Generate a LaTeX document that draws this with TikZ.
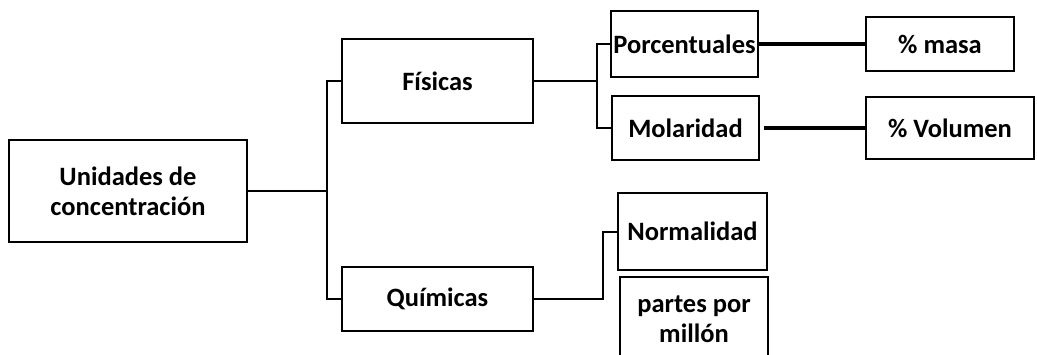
\documentclass[tikz,border=0pt]{standalone}
\usepackage{fontspec}
\setmainfont{Carlito}
\usepackage{tikz}
\usetikzlibrary{positioning}

\begin{document}
\begin{tikzpicture}[
  x=1pt,y=-1pt,line width=2pt,
  caja/.style={draw=black,line width=2pt,fill=white,inner sep=0pt,
    align=center,font=\fontsize{26.5}{30}\selectfont\bfseries},
  grueso/.style={line width=4pt}]

\useasboundingbox (0,0) rectangle (1037,354);
\clip (0,0) rectangle (1037,354);

\node[caja,minimum width=238,minimum height=102] (unidades) at (128,191)
  {Unidades de\\concentración};

\node[caja,minimum width=191,minimum height=84] (fisicas) at (437.5,81)
  {Físicas};
\node[caja,minimum width=191,minimum height=64] (quimicas) at (437.5,299)
  {Químicas};

\node[caja,minimum width=147,minimum height=66] (porcent) at (684.5,44)
  {Porcentuales};
\node[caja,minimum width=147,minimum height=64] (molar) at (685.5,128)
  {Molaridad};
\node[caja,minimum width=149,minimum height=77] (normal) at (692.5,231.5)
  {Normalidad};
\node[caja,minimum width=148,minimum height=84] (ppm) at (694,319)
  {partes por\\millón};

\node[caja,minimum width=148,minimum height=54] (masa) at (940,44)
  {\% masa};
\node[caja,minimum width=168,minimum height=62] (volumen) at (950,128)
  {\% Volumen};

\coordinate (tronco) at (327,191);
\coordinate (rfis) at (597,81);
\coordinate (rqui) at (603,265);

\draw (unidades) -- (tronco);
\draw (fisicas.west) -| (tronco) |- (quimicas.west);
\draw (fisicas) -- (rfis);
\draw (porcent.west) -| (rfis) |- (molar.west);
\draw (quimicas.east) -| (rqui) |- (normal.west);
\draw[grueso] (porcent) -- (masa);
\draw[grueso] ([xshift=4pt]molar.east) -- (volumen);
\end{tikzpicture}
\end{document}
